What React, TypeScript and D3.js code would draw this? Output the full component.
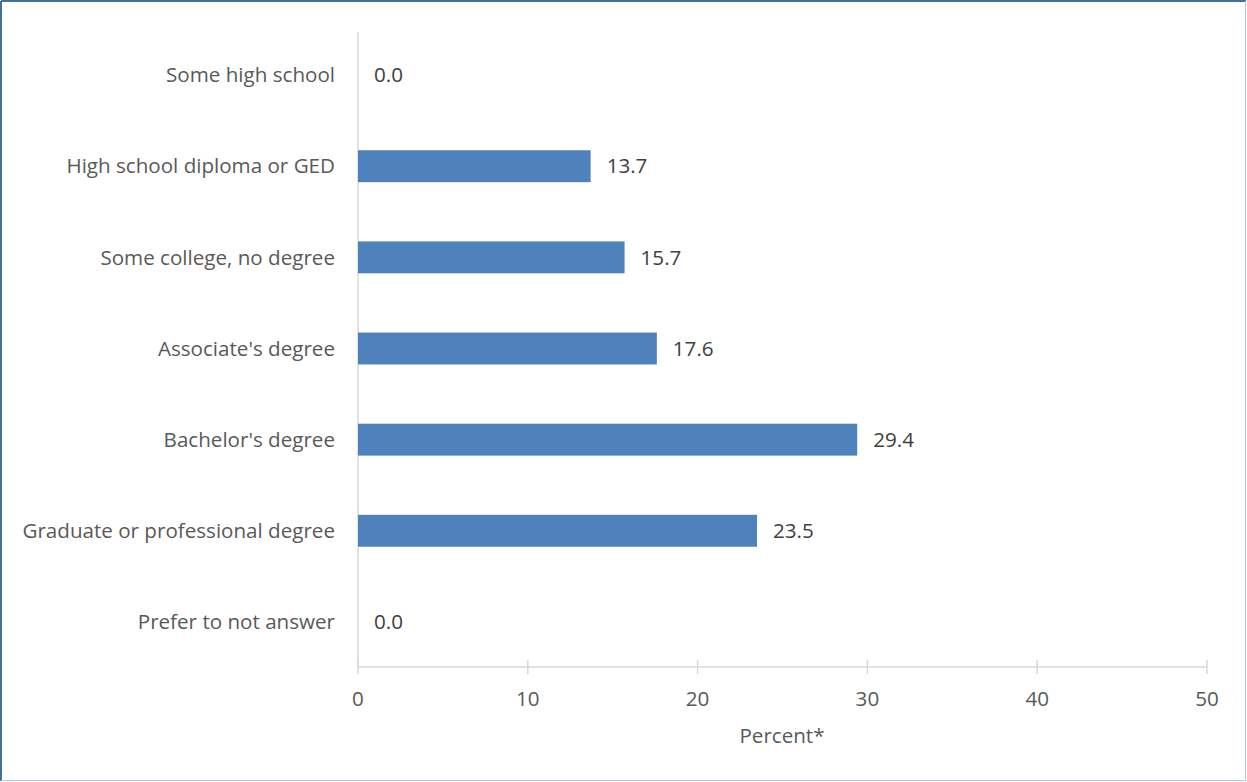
import React from "react";
import * as d3 from "d3";

const categories = [
  "Some high school",
  "High school diploma or GED",
  "Some college, no degree",
  "Associate's degree",
  "Bachelor's degree",
  "Graduate or professional degree",
  "Prefer to not answer",
];
const values = [0.0, 13.7, 15.7, 17.6, 29.4, 23.5, 0.0];
const xTicks = [0, 10, 20, 30, 40, 50];
const axisTitle = "Percent*";

const W = 1247;
const H = 782;
const FONT = "'Open Sans', sans-serif";
const FS = 20.6;

export default function App() {
  const x = d3.scaleLinear().domain([0, 50]).range([358, 1207]);
  const y = d3
    .scaleBand<string>()
    .domain(categories)
    .range([29.5, 667.5])
    .paddingInner(0.65)
    .paddingOuter(0.325);
  const bh = y.bandwidth();
  const axisY = 667;

  return (
    <svg
      width={W}
      height={H}
      style={{ position: "absolute", left: 0, top: 0, display: "block" }}
      fontFamily={FONT}
    >
      <rect x={0} y={0} width={W} height={H} fill="#fff" />
      {/* border */}
      <line x1={1} y1={1} x2={W - 1} y2={1} stroke="#41719C" strokeWidth={2} />
      <line x1={1} y1={1} x2={1} y2={H - 1} stroke="#41719C" strokeWidth={2} />
      <line x1={W - 1.5} y1={1} x2={W - 1.5} y2={H - 1} stroke="#B4C7E7" strokeWidth={1} />
      <line x1={1} y1={H - 1.5} x2={W - 1} y2={H - 1.5} stroke="#B4C7E7" strokeWidth={1} />

      {/* vertical axis line */}
      <line x1={x(0)} y1={32} x2={x(0)} y2={axisY} stroke="#D9D9D9" strokeWidth={1.5} />

      {/* bars */}
      {categories.map((c, i) => {
        const yc = (y(c) as number) + bh / 2;
        return (
          <g key={c}>
            <rect
              x={x(0)}
              y={y(c)}
              width={Math.max(0, x(values[i]) - x(0))}
              height={bh}
              fill="#4F81BD"
            />
            <text
              x={x(values[i]) + 16}
              y={yc}
              dy="0.35em"
              fontSize={FS}
              fill="#404040"
            >
              {values[i].toFixed(1)}
            </text>
            <text
              x={335}
              y={yc}
              dy="0.35em"
              textAnchor="end"
              fontSize={FS}
              fill="#595959"
            >
              {c}
            </text>
          </g>
        );
      })}

      {/* x axis */}
      <line x1={x(0)} y1={axisY} x2={x(50)} y2={axisY} stroke="#D9D9D9" strokeWidth={1.5} />
      {xTicks.map((t) => (
        <g key={t}>
          <line x1={x(t)} y1={660} x2={x(t)} y2={674} stroke="#D9D9D9" strokeWidth={1.5} />
          <text x={x(t)} y={699} dy="0.35em" textAnchor="middle" fontSize={FS} fill="#595959">
            {t}
          </text>
        </g>
      ))}
      <text x={782} y={736} dy="0.35em" textAnchor="middle" fontSize={FS} fill="#595959">
        {axisTitle}
      </text>
    </svg>
  );
}
